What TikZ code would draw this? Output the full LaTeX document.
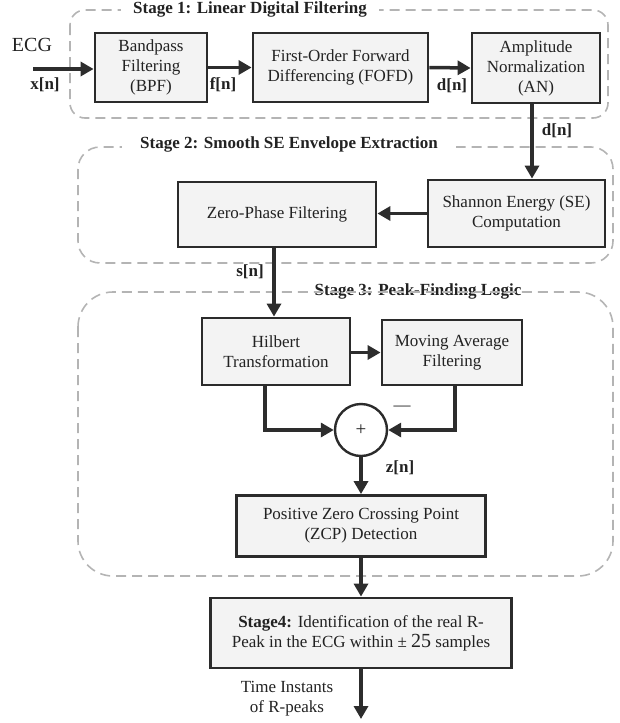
\documentclass[tikz,border=0pt]{standalone}
\usepackage{fontspec}
\setmainfont{Liberation Serif}
\usetikzlibrary{arrows.meta}
\definecolor{boxline}{HTML}{2B2B2B}
\definecolor{boxfill}{HTML}{F3F3F3}
\definecolor{arrowc}{HTML}{2D2D2D}
\definecolor{dashc}{HTML}{B4B4B4}
\definecolor{titlec}{HTML}{222222}
\begin{document}
\begin{tikzpicture}[x=1pt,y=-1pt,
  font=\fontsize{17}{20}\selectfont,
  blk/.style={draw=boxline, fill=boxfill, line width=2.8pt, align=center, inner sep=2pt, text=titlec},
  flow/.style={draw=arrowc, line width=3.5pt, -{Triangle[length=13pt,width=14pt]}},
  stagebox/.style={draw=dashc, line width=1.6pt, dash pattern=on 10pt off 6pt},
  sig/.style={font=\fontsize{17}{20}\selectfont\bfseries, text=titlec},
  stitle/.style={font=\fontsize{17}{20}\selectfont\bfseries, text=titlec}]
\useasboundingbox (0,0) rectangle (620,723);

% stage frames
\draw[stagebox, rounded corners=15pt] (70,10) rectangle (608,118);
\draw[stagebox, rounded corners=22pt] (78,147) rectangle (613,263);
\node[stitle] (t3) at (418,291) {Stage 3: Peak-Finding Logic};
\draw[stagebox, rounded corners=35pt] (78,292) rectangle (613,576);
\node[stitle, fill=white, inner xsep=12pt, inner ysep=1pt] (t1) at (250,9) {Stage 1: Linear Digital Filtering};
\node[stitle, fill=white, inner xsep=18pt, inner ysep=1pt] (t2) at (289,144) {Stage 2: Smooth SE Envelope Extraction};

% processing blocks
\node[blk, minimum width=112pt, minimum height=69pt] (bpf) at (151,67.5) {Bandpass\\Filtering\\(BPF)};
\node[blk, minimum width=175pt, minimum height=69pt] (fofd) at (340.5,67.5) {First-Order Forward\\Differencing (FOFD)};
\node[blk, minimum width=128pt, minimum height=70pt] (an) at (536,68) {Amplitude\\Normalization\\(AN)};
\node[blk, minimum width=177pt, minimum height=67pt] (se) at (516.5,213.5) {Shannon Energy (SE)\\Computation};
\node[blk, minimum width=198pt, minimum height=65pt] (zp) at (277,214.5) {Zero-Phase Filtering};
\node[blk, minimum width=148pt, minimum height=67pt] (hil) at (276,351.5) {Hilbert\\Transformation};
\node[blk, minimum width=140pt, minimum height=65pt] (maf) at (452,352.5) {Moving Average\\Filtering};
\node[circle, draw=boxline, line width=2.4pt, fill=white, minimum size=52pt, inner sep=0pt, text=titlec, font=\fontsize{19}{20}\selectfont] (sum) at (361,430) {+};
\node[blk, minimum width=249pt, minimum height=61pt] (zcp) at (361,526) {Positive Zero Crossing Point\\(ZCP) Detection};
\node[blk, minimum width=301pt, minimum height=70pt] (s4) at (361,633) {\textbf{Stage4:} Identification of the real R-\\Peak in the ECG within ± {\fontsize{20}{20}\selectfont 25} samples};

% input and output
\coordinate (in) at (33,69);
\coordinate (out) at (361,719);
\node[font=\fontsize{20}{22}\selectfont, text=titlec] (ecg) at (32,45) {ECG};
\node[align=center, text=titlec] (tout) at (287,699) {Time Instants\\of R-peaks};

% connectors
\draw[flow] (in) -- (in -| bpf.west);
\draw[flow] (bpf.east) -- (fofd.west);
\draw[flow] (fofd.east) -- (an.west);
\draw[flow] ([xshift=-4pt]an.south) -- ([xshift=-4pt]an.south |- se.north);
\draw[flow] (se.west) -- (se.west -| zp.east);
\draw[flow] ([xshift=-3pt]zp.south) -- ([xshift=-3pt]zp.south |- hil.north);
\draw[flow] ([yshift=-1pt]hil.east) -- ([yshift=-1pt]hil.east -| maf.west);
\draw[flow] ([xshift=-11pt]hil.south) |- (sum.west);
\draw[flow] ([xshift=3pt]maf.south) |- (sum.east);
\draw[flow] (sum.south) -- (zcp.north);
\draw[flow] (zcp.south) -- (s4.north);
\draw[flow] (s4.south) -- (out);

% signal labels
\node[sig] (lx) at (45,85) {x[n]};
\node[sig] (lf) at (223,85) {f[n]};
\node[sig] (ld1) at (452,86) {d[n]};
\node[sig] (ld2) at (557,131) {d[n]};
\node[sig] (ls) at (250,272) {s[n]};
\node[sig] (lz) at (400,468) {z[n]};
\node[text=titlec] (minus) at (402,408) {—};
\end{tikzpicture}
\end{document}
